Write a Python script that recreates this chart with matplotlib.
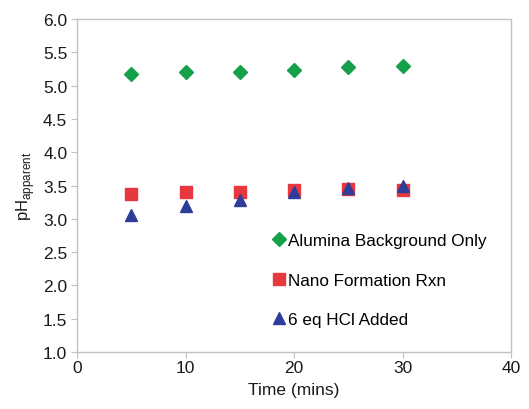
import matplotlib
matplotlib.use("Agg")
import matplotlib.pyplot as plt

time = [5, 10, 15, 20, 25, 30]
alumina = [5.18, 5.21, 5.21, 5.23, 5.28, 5.30]
nano = [3.37, 3.41, 3.41, 3.44, 3.45, 3.44]
hcl = [3.06, 3.20, 3.28, 3.40, 3.46, 3.50]
labels = ["Alumina Background Only", "Nano Formation Rxn", "6 eq HCl Added"]
xticks = [0, 10, 20, 30, 40]
yticks = [1.0, 1.5, 2.0, 2.5, 3.0, 3.5, 4.0, 4.5, 5.0, 5.5, 6.0]

plt.rcParams['font.family'] = ['Liberation Sans', 'DejaVu Sans']

fig = plt.figure(figsize=(5.29, 4.10), dpi=100)
ax = fig.add_axes([0.1456, 0.139, 0.8204, 0.812])

ax.plot(time, alumina, linestyle='none', marker='D', color='#17a04a', markersize=7, label=labels[0])
ax.plot(time, nano, linestyle='none', marker='s', color='#e8383f', markersize=9, label=labels[1])
ax.plot(time, hcl, linestyle='none', marker='^', color='#2f3d9a', markersize=9, label=labels[2])

ax.set_xlim(0, 40)
ax.set_ylim(1.0, 6.0)
ax.set_xticks(xticks)
ax.set_xticklabels([str(v) for v in xticks])
ax.set_yticks(yticks)
ax.set_yticklabels([f"{v:.1f}" for v in yticks])

for s in ax.spines.values():
    s.set_color('#c8c0bc')
    s.set_linewidth(1.0)
ax.tick_params(axis='both', direction='out', length=4, color='#c8c0bc', labelsize=12.5, labelcolor='#1a1a1a')
ax.tick_params(axis='x', pad=2)
ax.tick_params(axis='y', pad=3)

ax.set_xlabel("Time (mins)", fontsize=12.5, labelpad=5, color='#1a1a1a')
ax.set_ylabel(r"pH$_{\mathregular{apparent}}$", fontsize=12, labelpad=4, color='#1a1a1a')

leg = ax.legend(loc='upper left', bbox_to_anchor=(0.43, 0.382), frameon=False, fontsize=12.3,
                handlelength=0.8, handletextpad=0.1, labelspacing=1.42, borderpad=0)

fig.savefig("out.png", dpi=100)
